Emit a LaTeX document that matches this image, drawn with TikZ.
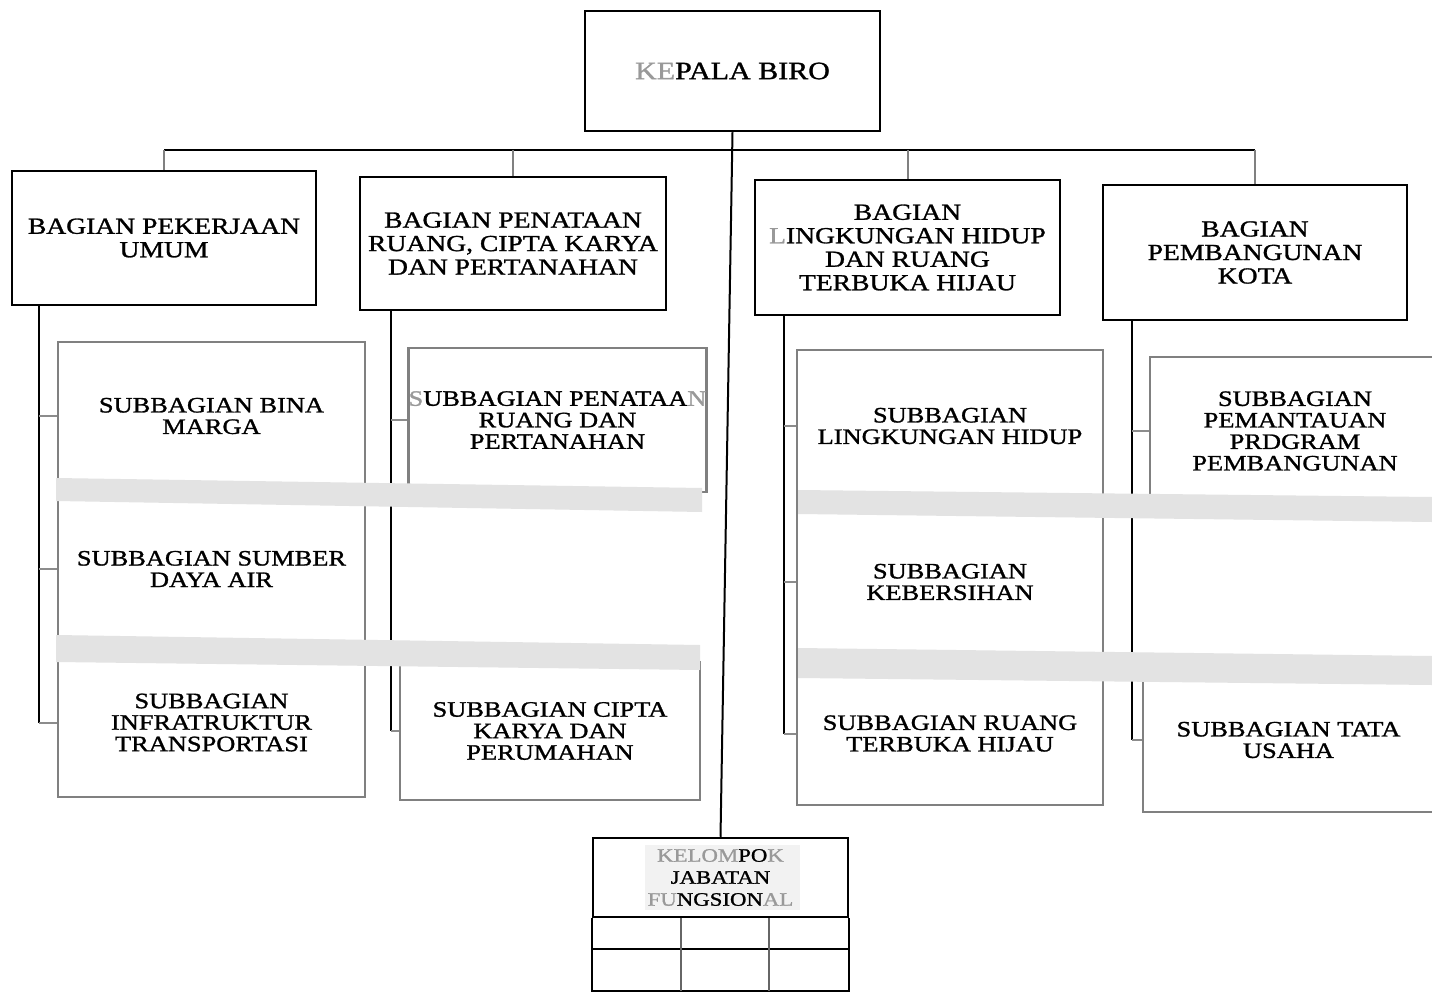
\documentclass[tikz,border=0pt]{standalone}
\usepackage{fontspec}
\setmainfont{Liberation Serif}[FakeStretch=1.2,FakeBold=1.2]
\newcommand\worn[1]{{\color{black!40}#1}}
\begin{document}
\begin{tikzpicture}[x=1pt,y=-1pt,
  topunit/.style={draw=black, line width=2.5pt, align=center, inner sep=0pt,
    font=\fontsize{25}{26}\selectfont},
  unit/.style={draw=black, line width=2.5pt, align=center, inner sep=0pt,
    font=\fontsize{23}{23.5}\selectfont},
  subunit/.style={draw=black!50, line width=2.5pt, align=center, inner sep=0pt,
    font=\fontsize{22}{21.5}\selectfont},
  groupbox/.style={draw=black, line width=2.5pt, align=center, inner sep=0pt,
    font=\fontsize{19}{22}\selectfont},
  link/.style={draw=black, line width=2pt},
  drop/.style={draw=black!50, line width=2pt},
  tick/.style={draw=black!45, line width=2pt},
  grid/.style={draw=black, line width=1.8pt},
  band/.style={fill=black!11}]

\useasboundingbox (0,0) rectangle (1432,995);
\fill[white] (0,0) rectangle (1432,995);

% head of the bureau
\node[topunit, minimum width=295pt, minimum height=120pt] (kb) at (732.5,71)
  {\worn{KE}PALA BIRO};

% the four divisions
\node[unit, minimum width=304pt, minimum height=134pt] (b1) at (164,238)
  {BAGIAN PEKERJAAN\\UMUM};
\node[unit, minimum width=306pt, minimum height=133pt] (b2) at (513,243.5)
  {BAGIAN PENATAAN\\RUANG, CIPTA KARYA\\DAN PERTANAHAN};
\node[unit, minimum width=305pt, minimum height=135pt] (b3) at (907.5,247.5)
  {BAGIAN\\\worn{L}INGKUNGAN HIDUP\\DAN RUANG\\TERBUKA HIJAU};
\node[unit, minimum width=304pt, minimum height=135pt] (b4) at (1255,252.5)
  {BAGIAN\\PEMBANGUNAN\\KOTA};

% functional group
\fill[black!5] (645,845) rectangle (800,910);
\node[groupbox, minimum width=255pt, minimum height=79pt] (kf) at (720.5,877.5)
  {\worn{KELOM}PO\worn{K}\\JABATAN\\\worn{FU}NGSION\worn{AL}};
\draw[grid] (kf.south west) -- ([yshift=-73pt]kf.south west)
  -- ([yshift=-73pt]kf.south east) -- (kf.south east);
\draw[grid] ([yshift=-31pt]kf.south west) -- ([yshift=-31pt]kf.south east);
\draw[grid, draw=black!60] ([xshift=89pt]kf.south west) -- ++(0,73);
\draw[grid, draw=black!60] ([xshift=177pt]kf.south west) -- ++(0,73);

% sub-divisions, column 1
\node[subunit, minimum width=307pt, minimum height=148pt] (s1a) at (211.5,416)
  {SUBBAGIAN BINA\\MARGA};
\node[subunit, minimum width=307pt, minimum height=158pt] (s1b) at (211.5,569)
  {SUBBAGIAN SUMBER\\DAYA AIR};
\node[subunit, minimum width=307pt, minimum height=149pt] (s1c) at (211.5,722.5)
  {SUBBAGIAN\\INFRATRUKTUR\\TRANSPORTASI};

% column 2
\node[subunit, minimum width=295pt, minimum height=144pt] (s2a) at (557.5,420)
  {\worn{S}UBBAGIAN PENATAA\worn{N}\\RUANG DAN\\PERTANAHAN};
\node[subunit, minimum width=300pt, minimum height=138pt] (s2b) at (550,731)
  {SUBBAGIAN CIPTA\\KARYA DAN\\PERUMAHAN};

% column 3
\node[subunit, minimum width=306pt, minimum height=152pt] (s3a) at (950,426)
  {SUBBAGIAN\\LINGKUNGAN HIDUP};
\node[subunit, minimum width=306pt, minimum height=160pt] (s3b) at (950,582)
  {SUBBAGIAN\\KEBERSIHAN};
\node[subunit, minimum width=306pt, minimum height=143pt] (s3c) at (950,733.5)
  {SUBBAGIAN RUANG\\TERBUKA HIJAU};

% column 4
\node[subunit, minimum width=290pt, minimum height=148pt] (s4a) at (1295,431)
  {SUBBAGIAN\\PEMANTAUAN\\PRDGRAM\\PEMBANGUNAN};
\node[subunit, minimum width=291pt, minimum height=144pt] (s4b) at (1288.5,740)
  {SUBBAGIAN TATA\\USAHA};

% command lines from the head
\coordinate (bus) at (732,150);
\draw[link] (kb.south) -- (kf.north);
\draw[link] (b1.north |- bus) -- (b4.north |- bus);
\foreach \b in {b1,b2,b3,b4}
  \draw[drop] (\b.north |- bus) -- (\b.north);

% spines from each division to its sub-divisions
\coordinate (p1) at ([xshift=28pt]b1.south west);
\coordinate (p2) at ([xshift=32pt]b2.south west);
\coordinate (p3) at ([xshift=30pt]b3.south west);
\coordinate (p4) at ([xshift=30pt]b4.south west);
\draw[link] (p1) -- (p1 |- s1c.west);
\draw[link] (p2) -- (p2 |- s2b.west);
\draw[link] (p3) -- (p3 |- s3c.west);
\draw[link] (p4) -- (p4 |- s4b.west);
\foreach \s in {s1a,s1b,s1c} \draw[tick] (p1 |- \s.west) -- (\s.west);
\foreach \s in {s2a,s2b} \draw[tick] (p2 |- \s.west) -- (\s.west);
\foreach \s in {s3a,s3b,s3c} \draw[tick] (p3 |- \s.west) -- (\s.west);
\foreach \s in {s4a,s4b} \draw[tick] (p4 |- \s.west) -- (\s.west);

% pale strips across the sub-division rows
\fill[band] (56,478) -- (702,488) -- (702,512) -- (56,501) -- cycle;
\fill[band] (56,635) -- (700,645) -- (700,670) -- (56,662) -- cycle;
\fill[band] (798,490) -- (1432,497) -- (1432,522) -- (798,514) -- cycle;
\fill[band] (798,648) -- (1432,656) -- (1432,685) -- (798,678) -- cycle;

\end{tikzpicture}
\end{document}
